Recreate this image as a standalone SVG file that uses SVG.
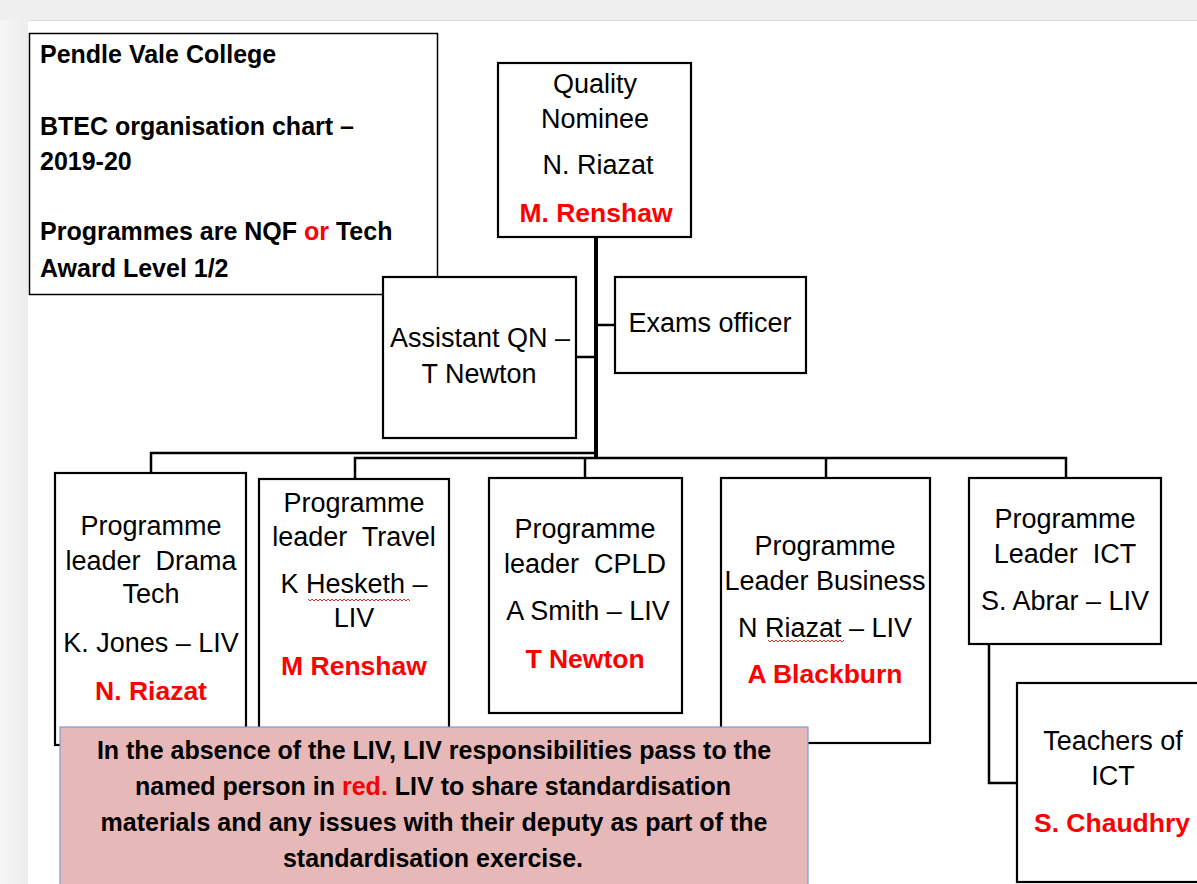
<svg xmlns="http://www.w3.org/2000/svg" width="1197" height="884" viewBox="0 0 1197 884">
<style>
  .box{fill:#fff;stroke:#000;stroke-width:2.2}
  .t{font-family:"Liberation Sans",Arial,sans-serif;font-size:27px;fill:#000;text-anchor:middle;white-space:pre}
  .r{font-family:"Liberation Sans",Arial,sans-serif;font-size:26.5px;font-weight:bold;fill:#ff0000;text-anchor:middle}
  .b{font-family:"Liberation Sans",Arial,sans-serif;font-size:25px;font-weight:bold;fill:#000}
  .n{font-family:"Liberation Sans",Arial,sans-serif;font-size:25px;font-weight:bold;fill:#000;text-anchor:middle}
  .c{fill:none;stroke:#000;stroke-width:2.5}
  .w{fill:none;stroke:#e03030;stroke-width:1}
</style>
<defs>
  <linearGradient id="lg" x1="0" y1="0" x2="1" y2="0">
    <stop offset="0" stop-color="#f7f7f7"/>
    <stop offset="1" stop-color="#ececec"/>
  </linearGradient>
</defs>
<!-- background -->
<rect x="0" y="0" width="1197" height="884" fill="#fff"/>
<rect x="0" y="0" width="28" height="884" fill="url(#lg)"/>
<rect x="0" y="0" width="1197" height="20" fill="#efefef"/>
<line x1="28" y1="20.5" x2="1197" y2="20.5" stroke="#dcdcdc" stroke-width="1"/>

<g id="connectors">
  <line x1="596" y1="237" x2="596" y2="459" stroke="#000" stroke-width="4"/>
  <line class="c" x1="596" y1="325" x2="615" y2="325"/>
  <line class="c" x1="576" y1="357" x2="596" y2="357"/>
  <polyline class="c" points="151,473 151,453 596,453"/>
  <polyline class="c" points="355,479 355,458 1066,458 1066,478"/>
  <line class="c" x1="585" y1="458" x2="585" y2="478"/>
  <line class="c" x1="826" y1="458" x2="826" y2="478"/>
  <polyline class="c" points="989,644 989,783 1017,783"/>
</g>

<g id="title">
  <rect x="29.5" y="33.5" width="408" height="261" fill="#fff" stroke="#000" stroke-width="1.5"/>
  <text class="b" x="40" y="63">Pendle Vale College</text>
  <text class="b" x="40" y="135">BTEC organisation chart –</text>
  <text class="b" x="40" y="170">2019-20</text>
  <text class="b" x="40" y="240">Programmes are NQF <tspan fill="#ff0000">or</tspan> Tech</text>
  <text class="b" x="40" y="277">Award Level 1/2</text>
</g>

<g id="quality-nominee">
  <rect class="box" x="498" y="63" width="193" height="174"/>
  <text class="t" x="595" y="93">Quality</text>
  <text class="t" x="595" y="128">Nominee</text>
  <text class="t" x="598" y="174">N. Riazat</text>
  <text class="r" x="596" y="222">M. Renshaw</text>
</g>

<g id="assistant-qn">
  <rect class="box" x="383" y="277" width="193" height="161"/>
  <text class="t" x="480" y="347">Assistant QN –</text>
  <text class="t" x="479" y="383">T Newton</text>
</g>

<g id="exams-officer">
  <rect class="box" x="615" y="277" width="191" height="96"/>
  <text class="t" x="710" y="332">Exams officer</text>
</g>

<g id="drama">
  <rect class="box" x="55" y="473" width="191" height="272"/>
  <text class="t" x="151" y="535">Programme</text>
  <text class="t" x="151" y="570" xml:space="preserve">leader  Drama</text>
  <text class="t" x="151" y="603">Tech</text>
  <text class="t" x="151" y="652">K. Jones – LIV</text>
  <text class="r" x="151" y="700">N. Riazat</text>
</g>

<g id="travel">
  <rect class="box" x="259" y="479" width="190" height="266"/>
  <text class="t" x="354" y="512">Programme</text>
  <text class="t" x="354" y="546" xml:space="preserve">leader  Travel</text>
  <text class="t" x="354" y="593">K Hesketh –</text>
  <path class="w" d="M308 599 l2 2 l2 -2 l2 2 l2 -2 l2 2 l2 -2 l2 2 l2 -2 l2 2 l2 -2 l2 2 l2 -2 l2 2 l2 -2 l2 2 l2 -2 l2 2 l2 -2 l2 2 l2 -2 l2 2 l2 -2 l2 2 l2 -2 l2 2 l2 -2 l2 2 l2 -2 l2 2 l2 -2 l2 2 l2 -2 l2 2 l2 -2 l2 2 l2 -2 l2 2 l2 -2 l2 2 l2 -2 l2 2 l2 -2 l2 2 l2 -2 l2 2 l2 -2 l2 2 l2 -2 l2 2 l2 -2 l2 2"/>
  <text class="t" x="354" y="627">LIV</text>
  <text class="r" x="354" y="675">M Renshaw</text>
</g>

<g id="cpld">
  <rect class="box" x="489" y="478" width="193" height="235"/>
  <text class="t" x="585" y="538">Programme</text>
  <text class="t" x="585" y="573" xml:space="preserve">leader  CPLD</text>
  <text class="t" x="588" y="620">A Smith – LIV</text>
  <text class="r" x="585" y="668">T Newton</text>
</g>

<g id="business">
  <rect class="box" x="721" y="478" width="209" height="265"/>
  <text class="t" x="825" y="555">Programme</text>
  <text class="t" x="825" y="590">Leader Business</text>
  <text class="t" x="825" y="637">N Riazat – LIV</text>
  <path class="w" d="M768 640 l2 2 l2 -2 l2 2 l2 -2 l2 2 l2 -2 l2 2 l2 -2 l2 2 l2 -2 l2 2 l2 -2 l2 2 l2 -2 l2 2 l2 -2 l2 2 l2 -2 l2 2 l2 -2 l2 2 l2 -2 l2 2 l2 -2 l2 2 l2 -2 l2 2 l2 -2 l2 2 l2 -2 l2 2 l2 -2 l2 2 l2 -2 l2 2 l2 -2 l2 2 l2 -2"/>
  <text class="r" x="825" y="683">A Blackburn</text>
</g>

<g id="ict">
  <rect class="box" x="969" y="478" width="192" height="166"/>
  <text class="t" x="1065" y="528">Programme</text>
  <text class="t" x="1065" y="563" xml:space="preserve">Leader  ICT</text>
  <text class="t" x="1065" y="610">S. Abrar – LIV</text>
</g>

<g id="teachers-ict">
  <rect class="box" x="1017" y="683" width="182" height="199"/>
  <text class="t" x="1113" y="750">Teachers of</text>
  <text class="t" x="1113" y="785">ICT</text>
  <text class="r" x="1112" y="832">S. Chaudhry</text>
</g>

<g id="note">
  <rect x="60" y="727" width="748" height="170" fill="#e6b8b7" stroke="#7b9bd0" stroke-width="1.2"/>
  <text class="n" x="434" y="759">In the absence of the LIV, LIV responsibilities pass to the</text>
  <text class="n" x="433" y="795">named person in <tspan fill="#ff0000">red.</tspan> LIV to share standardisation</text>
  <text class="n" x="434" y="831">materials and any issues with their deputy as part of the</text>
  <text class="n" x="433" y="867">standardisation exercise.</text>
</g>
</svg>
